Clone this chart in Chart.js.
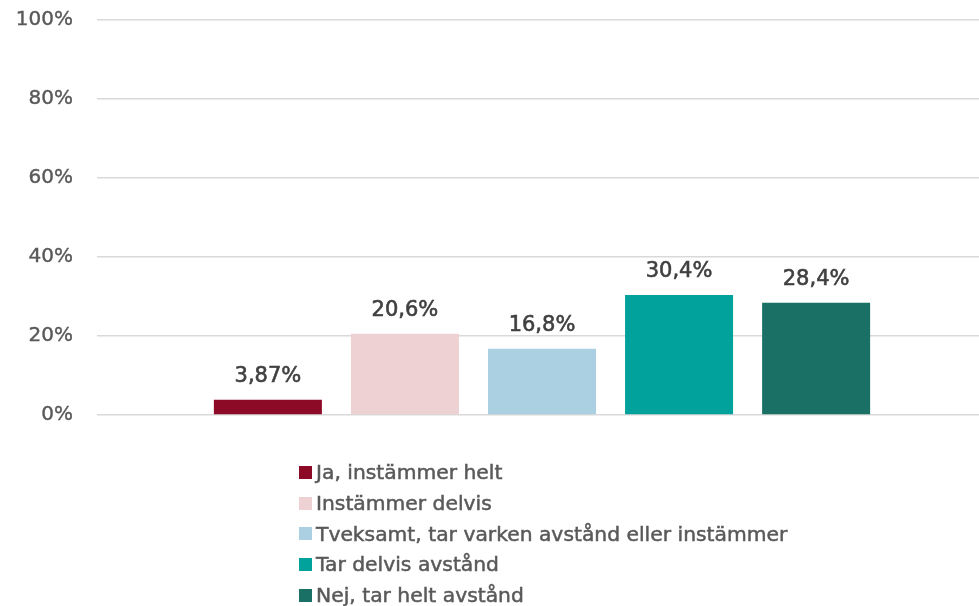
<!DOCTYPE html>
<html>
<head>
<meta charset="utf-8">
<script src="https://cdn.jsdelivr.net/npm/chart.js@4"></script>
<style>
  html, body { margin: 0; padding: 0; background: #fff; overflow: hidden; }
  #wrap { position: relative; width: 987px; height: 606px; }
  #legend {
    position: absolute; left: 299px; top: 457px;
    font-family: "DejaVu Sans", sans-serif;
    font-size: 20.3px; color: #595959;
    -webkit-text-stroke: 0.5px #595959;
  }
  .item { display: flex; align-items: center; height: 30.7px; }
  .box { width: 13px; height: 13px; margin-right: 4px; }
</style>
</head>
<body>
<div id="wrap">
  <canvas id="chart" width="987" height="606"></canvas>
  <div id="legend"></div>
</div>
<script>
// answers and their share of respondents (%)
const seriesNames = [
  'Ja, instämmer helt',
  'Instämmer delvis',
  'Tveksamt, tar varken avstånd eller instämmer',
  'Tar delvis avstånd',
  'Nej, tar helt avstånd'
];
const seriesValues = [3.87, 20.6, 16.8, 30.4, 28.4];
const seriesColors = ['#8C0A26', '#EDD1D3', '#AAD0E1', '#00A29B', '#1B7066'];
const yTicks = [0, 20, 40, 60, 80, 100];

const FONT = '"DejaVu Sans", sans-serif';

function fmt(v) {
  return v.toPrecision(3).replace('.', ',') + '%';
}

// draws the value above each bar
const valueLabels = {
  id: 'valueLabels',
  afterDatasetsDraw(chart) {
    const ctx = chart.ctx;
    ctx.save();
    ctx.font = '21px ' + FONT;
    ctx.fillStyle = '#404040';
    ctx.strokeStyle = '#404040';
    ctx.lineWidth = 0.6;
    ctx.textAlign = 'center';
    ctx.textBaseline = 'middle';
    chart.data.datasets.forEach((ds, i) => {
      const bar = chart.getDatasetMeta(i).data[0];
      const txt = fmt(ds.data[0]);
      ctx.fillText(txt, bar.x, bar.y - 23);
      ctx.strokeText(txt, bar.x, bar.y - 23);
    });
    ctx.restore();
  }
};

new Chart(document.getElementById('chart'), {
  type: 'bar',
  data: {
    labels: [''],
    datasets: seriesNames.map((name, i) => ({
      label: name,
      data: [seriesValues[i]],
      backgroundColor: seriesColors[i],
      categoryPercentage: 0.77,
      barPercentage: 0.788
    }))
  },
  options: {
    responsive: false,
    animation: false,
    layout: { padding: { top: 20, bottom: 183, left: 0, right: 0 } },
    plugins: {
      legend: { display: false },
      tooltip: { enabled: false }
    },
    scales: {
      x: {
        ticks: { display: false },
        grid: { display: false },
        border: { display: false }
      },
      y: {
        min: 0,
        max: 100,
        afterBuildTicks: s => { s.ticks = yTicks.map(v => ({ value: v })); },
        afterFit: s => { s.width = 97; },
        border: { display: false },
        // invisible tick marks keep the labels away from the plot
        grid: { color: '#D9D9D9', lineWidth: 1.5, drawTicks: true, tickLength: 21, tickColor: 'rgba(0,0,0,0)' },
        ticks: {
          padding: 3,
          color: '#595959',
          textStrokeColor: '#595959',
          textStrokeWidth: 0.4,
          font: { family: FONT, size: 20 },
          callback: v => v + '%'
        }
      }
    }
  },
  plugins: [valueLabels]
});

// legend as a plain vertical list
const legend = document.getElementById('legend');
seriesNames.forEach((name, i) => {
  const row = document.createElement('div');
  row.className = 'item';
  row.innerHTML = '<span class="box" style="background:' + seriesColors[i] + '"></span><span>' + name + '</span>';
  legend.appendChild(row);
});
</script>
</body>
</html>
